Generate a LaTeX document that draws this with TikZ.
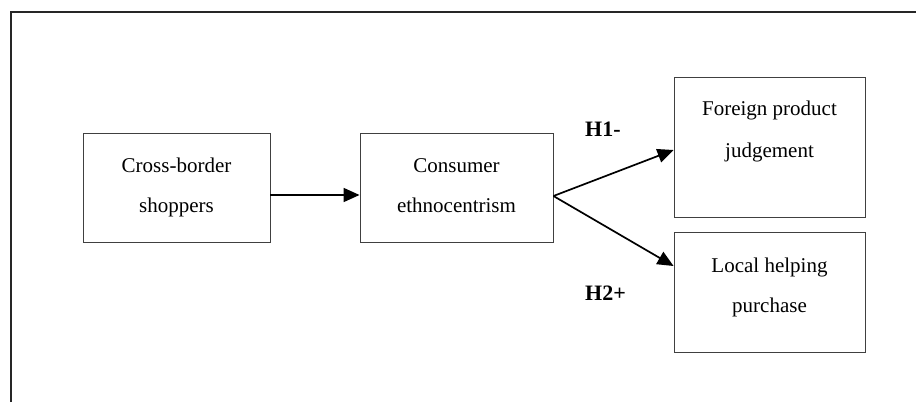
\documentclass[tikz,border=0pt]{standalone}
\usepackage{fontspec}
\setmainfont{Liberation Serif}
\usetikzlibrary{arrows.meta}
\begin{document}
\begin{tikzpicture}[x=1pt,y=-1pt,
  box/.style={draw=black!75, line width=0.9pt, inner sep=0pt},
  txt/.style={anchor=base, inner sep=0pt, font=\fontsize{21}{25}\selectfont},
  hyp/.style={anchor=base west, inner sep=0pt, font=\fontsize{22}{26}\selectfont\bfseries},
  arr/.style={line width=1.7pt, -{Triangle[length=16pt,width=14pt]}}]
\useasboundingbox (0,0) rectangle (916,402);
% outer frame (only top and left edges visible)
\coordinate (fa) at (11,402);
\coordinate (fb) at (11,12);
\coordinate (fc) at (916,12);
\draw[line width=1.8pt, black!85] (fa) -- (fb) -- (fc);
% boxes
\node[box, minimum width=187pt, minimum height=109pt] (b1) at (176.5,187.5) {};
\node[box, minimum width=193pt, minimum height=109pt] (b2) at (456.5,187.5) {};
\node[box, minimum width=191pt, minimum height=140pt] (b3) at (769.5,147) {};
\node[box, minimum width=191pt, minimum height=120pt] (b4) at (769.5,292) {};
% texts
\node[txt] (t1a) at (176.5,172) {Cross-border};
\node[txt] (t1b) at (176.5,212) {shoppers};
\node[txt] (t2a) at (456.5,172) {Consumer};
\node[txt] (t2b) at (456.5,212) {ethnocentrism};
\node[txt] (t3a) at (769.5,115) {Foreign product};
\node[txt] (t3b) at (769.5,157) {judgement};
\node[txt] (t4a) at (769.5,272) {Local helping};
\node[txt] (t4b) at (769.5,312) {purchase};
% hypothesis labels
\node[hyp] (h1) at (585,136) {H1-};
\node[hyp] (h2) at (585,300) {H2+};
% connectors
\draw[arr] ([yshift=-7.5pt]b1.east) -- ([yshift=-7.5pt]b2.west);
\draw[arr] ([yshift=-8.5pt]b2.east) -- ([yshift=-3pt]b3.west);
\draw[arr] ([yshift=-8.5pt]b2.east) -- ([yshift=26pt]b4.west);
\end{tikzpicture}
\end{document}
